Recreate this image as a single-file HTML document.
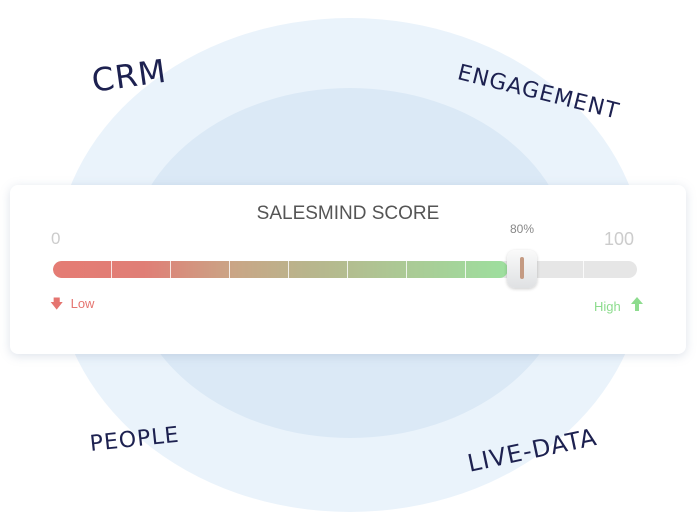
<!DOCTYPE html>
<html><head><style>
body{margin:0;width:700px;height:532px;background:#fff;position:relative;overflow:hidden;font-family:"Liberation Sans",sans-serif}
.e{position:absolute;border-radius:50%}
.hw{position:absolute;color:#1d2150;font-family:"DejaVu Sans",sans-serif;font-weight:normal;letter-spacing:1px;transform-origin:left center}
.card{position:absolute;left:10px;top:185px;width:676px;height:169px;background:#fff;border-radius:8px;box-shadow:0 2px 10px rgba(120,140,170,.25)}
.t{position:absolute;color:#ccc;font-size:17px}
</style></head><body>
<div class="e" style="left:55px;top:18px;width:590px;height:494px;background:#eaf3fb"></div>
<div class="e" style="left:128px;top:88px;width:444px;height:350px;background:#dbe9f6"></div>
<div class="hw" style="left:92px;top:62px;font-size:32px;transform:rotate(-8deg)">CRM</div>
<div class="hw" style="left:458px;top:60px;font-size:22px;transform:rotate(14deg)">ENGAGEMENT</div>
<div class="hw" style="left:90px;top:432px;font-size:22px;transform:rotate(-6deg)">PEOPLE</div>
<div class="hw" style="left:468px;top:450px;font-size:24px;transform:rotate(-12deg)">LIVE-DATA</div>
<div class="card">
<div style="position:absolute;left:0;width:676px;top:18px;text-align:center;font-size:19px;color:#555">SALESMIND SCORE</div>
<div class="t" style="left:41px;top:44px">0</div>
<div class="t" style="left:594px;top:44px;font-size:18px">100</div>
<div style="position:absolute;left:500px;top:37px;font-size:12px;color:#888">80%</div>
<div style="position:absolute;left:43px;top:76px;width:584px;height:17px;border-radius:9px;background:#e6e6e6;overflow:hidden">
<div style="width:455px;height:17px;border-radius:9px;background:linear-gradient(90deg,#e57c74 0%,#e07e76 20%,#c9a686 40%,#b9b48c 55%,#9ddf9e 100%)"></div>
<div style="position:absolute;top:0;left:0;width:584px;height:17px;background:repeating-linear-gradient(90deg,transparent 0,transparent 58px,rgba(255,255,255,.8) 58px,rgba(255,255,255,.8) 59px)"></div>
</div>
<div style="position:absolute;left:497px;top:65px;width:30px;height:38px;border-radius:8px;background:linear-gradient(#fafafa,#dfe1e3);box-shadow:0 1px 3px rgba(0,0,0,.2)"><div style="position:absolute;left:13px;top:7px;width:4px;height:22px;border-radius:2px;background:#c49a82"></div></div>
<div style="position:absolute;left:40px;top:110px;color:#e57570;font-size:13px">&#129095;&nbsp; Low</div>
<div style="position:absolute;left:584px;top:114px;color:#8ddc8e;font-size:13px">High</div>
<div style="position:absolute;left:621px;top:112px;width:0;height:0;border-left:6px solid transparent;border-right:6px solid transparent;border-bottom:7px solid #8ddc8e"></div>
<div style="position:absolute;left:625px;top:118px;width:4px;height:8px;background:#8ddc8e"></div>
</div>
</body></html>
